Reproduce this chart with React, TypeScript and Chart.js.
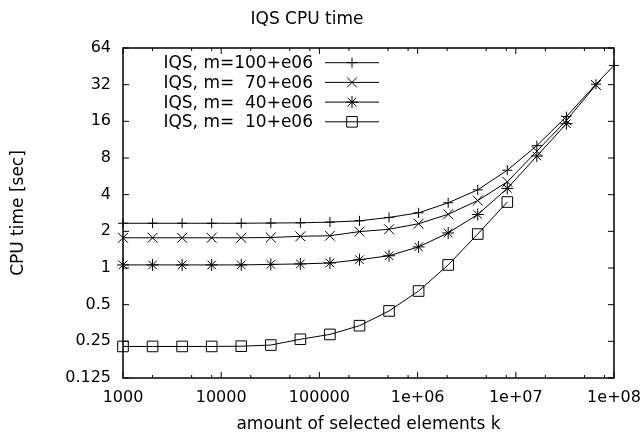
import React, { useEffect, useRef } from 'react';
import { Chart, registerables } from 'chart.js';
import { drawPoint } from 'chart.js/helpers';

Chart.register(...registerables);

// ---- data ----
const kValues = [
  1000, 2000, 4000, 8000, 16000, 32000, 64000, 128000, 256000, 512000,
  1024000, 2048000, 4096000, 8192000, 16384000, 32768000, 65536000, 100000000,
];
const timeM100 = [2.33, 2.33, 2.33, 2.33, 2.33, 2.34, 2.35, 2.38, 2.44, 2.6, 2.84, 3.43, 4.38, 6.35, 10.1, 17.5, 32.3, 46];
const timeM70 = [1.77, 1.77, 1.77, 1.77, 1.77, 1.78, 1.82, 1.84, 1.99, 2.08, 2.31, 2.76, 3.58, 5.1, 9.1, 16.3, 31.8];
const timeM40 = [1.06, 1.06, 1.06, 1.06, 1.06, 1.07, 1.08, 1.1, 1.17, 1.26, 1.49, 1.94, 2.75, 4.5, 8.3, 15.3];
const timeM10 = [0.227, 0.227, 0.227, 0.227, 0.228, 0.233, 0.26, 0.285, 0.336, 0.444, 0.647, 1.06, 1.9, 3.48];

const seriesLabels = ['IQS, m=100+e06', 'IQS, m=  70+e06', 'IQS, m=  40+e06', 'IQS, m=  10+e06'];
const yTickValues = [0.125, 0.25, 0.5, 1, 2, 4, 8, 16, 32, 64];
const yTickLabels = ['0.125', '0.25', '0.5', '1', '2', '4', '8', '16', '32', '64'];
const xTickValues = [1e3, 1e4, 1e5, 1e6, 1e7, 1e8];
const xTickLabels = ['1000', '10000', '100000', '1e+06', '1e+07', '1e+08'];
const xMinorFactors = [2, 5, 8];

const FONT = '"DejaVu Sans", "Liberation Sans", sans-serif';

const toPoints = (vals: number[]) => vals.map((v, i) => ({ x: kValues[i], y: v }));

const styles = [
  { pointStyle: 'cross', radius: 5 },
  { pointStyle: 'crossRot', radius: 7 },
  { pointStyle: 'star', radius: 6 },
  { pointStyle: 'rect', radius: 7.5 },
];

const framePlugin = {
  id: 'frame',
  afterDraw(chart: any) {
    const { ctx, chartArea, scales } = chart;
    const { left, right, top, bottom } = chartArea;
    const x = scales.x;
    const y = scales.y;
    ctx.save();
    ctx.strokeStyle = '#000';
    ctx.lineWidth = 1.5;
    ctx.strokeRect(left, top, right - left, bottom - top);
    ctx.lineWidth = 1;
    const seg = (x1: number, y1: number, x2: number, y2: number) => {
      ctx.beginPath();
      ctx.moveTo(x1, y1);
      ctx.lineTo(x2, y2);
      ctx.stroke();
    };
    yTickValues.forEach((v) => {
      const py = y.getPixelForValue(v);
      seg(left, py, left + 6, py);
      seg(right, py, right - 6, py);
    });
    xTickValues.forEach((v, i) => {
      const px = x.getPixelForValue(v);
      seg(px, bottom, px, bottom - 6);
      seg(px, top, px, top + 6);
      if (i < xTickValues.length - 1) {
        xMinorFactors.forEach((f) => {
          const mx = x.getPixelForValue(v * f);
          seg(mx, bottom, mx, bottom - 3);
          seg(mx, top, mx, top + 3);
        });
      }
    });

    // legend (gnuplot style)
    const textRight = 313;
    const lineStart = 325;
    const lineEnd = 379;
    const markX = 352;
    seriesLabels.forEach((label, i) => {
      const ry = 62.7 + i * 19.7;
      ctx.font = `17px ${FONT}`;
      ctx.fillStyle = '#000';
      ctx.textAlign = 'right';
      ctx.textBaseline = 'middle';
      ctx.fillText(label, textRight, ry + 1);
      ctx.lineWidth = 1;
      ctx.strokeStyle = '#000';
      seg(lineStart, ry, lineEnd, ry);
      ctx.fillStyle = 'rgba(0,0,0,0)';
      drawPoint(ctx, { pointStyle: styles[i].pointStyle as any, radius: styles[i].radius, rotation: 0, borderWidth: 1 } as any, markX, ry);
    });
    ctx.restore();
  },
};

export default function App() {
  const canvasRef = useRef<HTMLCanvasElement | null>(null);

  useEffect(() => {
    document.body.style.margin = '0';
    const canvas = canvasRef.current;
    if (!canvas) return;
    const series = [timeM100, timeM70, timeM40, timeM10];
    const chart = new Chart(canvas, {
      type: 'line',
      data: {
        datasets: series.map((vals, i) => ({
          label: seriesLabels[i],
          data: toPoints(vals),
          borderColor: '#000',
          borderWidth: 1,
          backgroundColor: 'rgba(0,0,0,0)',
          pointStyle: styles[i].pointStyle as any,
          pointRadius: styles[i].radius,
          pointBorderColor: '#000',
          pointBackgroundColor: 'rgba(0,0,0,0)',
          pointBorderWidth: 1,
          tension: 0,
          fill: false,
          clip: false as any,
        })),
      },
      options: {
        animation: false,
        responsive: false,
        maintainAspectRatio: false,
        layout: { padding: { left: 0, right: 30, top: 0, bottom: 0 } },
        plugins: {
          legend: { display: false },
          tooltip: { enabled: false },
          title: {
            display: true,
            text: 'IQS CPU time',
            color: '#000',
            font: { family: FONT, size: 17, weight: 'normal' as any },
            padding: { top: 9, bottom: 18.6 },
          },
        },
        scales: {
          x: {
            type: 'logarithmic',
            min: 1000,
            max: 1e8,
            afterBuildTicks: (s: any) => {
              s.ticks = xTickValues.map((v) => ({ value: v }));
            },
            afterFit: (s: any) => {
              s.height = 61;
              s.paddingLeft = 0;
              s.paddingRight = 0;
            },
            grid: { display: false, drawTicks: false },
            border: { display: false },
            ticks: {
              autoSkip: false,
              maxRotation: 0,
              padding: 10,
              color: '#000',
              font: { family: FONT, size: 16 },
              callback: (_v: any, i: number) => xTickLabels[i],
            },
            title: {
              display: true,
              text: 'amount of selected elements k',
              color: '#000',
              font: { family: FONT, size: 17 },
              padding: { top: 0, bottom: 4 },
            },
          },
          y: {
            type: 'logarithmic',
            min: 0.125,
            max: 64,
            afterBuildTicks: (s: any) => {
              s.ticks = yTickValues.map((v) => ({ value: v }));
            },
            afterFit: (s: any) => {
              s.width = 123;
              s.paddingTop = 0;
              s.paddingBottom = 0;
            },
            grid: { display: false, drawTicks: false },
            border: { display: false },
            ticks: {
              autoSkip: false,
              padding: 12,
              color: '#000',
              font: { family: FONT, size: 16 },
              callback: (_v: any, i: number) => yTickLabels[i],
            },
            title: {
              display: true,
              text: 'CPU time [sec]',
              color: '#000',
              font: { family: FONT, size: 17 },
              padding: { top: 8, bottom: 0 },
            },
          },
        },
      },
      plugins: [framePlugin],
    });
    return () => chart.destroy();
  }, []);

  return (
    <div style={{ width: 644, height: 439 }}>
      <canvas ref={canvasRef} width={644} height={439} style={{ display: 'block' }} />
    </div>
  );
}
